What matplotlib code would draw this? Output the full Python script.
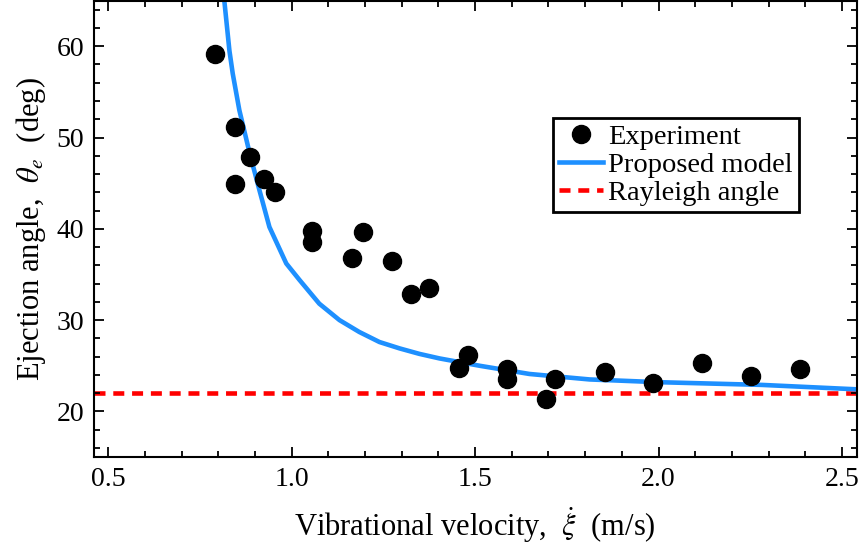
import matplotlib
matplotlib.use("Agg")
import matplotlib.pyplot as plt
from matplotlib.ticker import MultipleLocator, FormatStrFormatter

plt.rcParams["font.family"] = ["Liberation Serif", "DejaVu Serif"]
plt.rcParams["mathtext.fontset"] = "stix"

# experimental points
exp_v = [0.792, 0.846, 0.846, 0.887, 0.925, 0.953, 1.056, 1.056, 1.163, 1.193,
         1.272, 1.324, 1.375, 1.455, 1.481, 1.588, 1.588, 1.694, 1.719, 1.853,
         1.985, 2.119, 2.251, 2.385]
exp_theta = [59.2, 51.2, 44.9, 47.9, 45.5, 44.0, 39.8, 38.5, 36.8, 39.7,
             36.5, 32.9, 33.5, 24.8, 26.2, 24.6, 23.5, 21.4, 23.6, 24.3,
             23.1, 25.3, 23.9, 24.6]

# proposed model curve
model_v = [0.816, 0.830, 0.839, 0.857, 0.885, 0.912, 0.939, 0.985, 1.021, 1.075,
           1.130, 1.184, 1.239, 1.294, 1.348, 1.403, 1.512, 1.648, 1.812, 2.0,
           2.283, 2.55]
model_theta = [65.0, 59.5, 57.0, 53.0, 48.3, 44.2, 40.2, 36.2, 34.4, 31.8,
               30.0, 28.7, 27.6, 26.9, 26.3, 25.8, 25.0, 24.1, 23.5, 23.2,
               22.9, 22.4]

rayleigh = 22.0

fig = plt.figure(figsize=(8.6, 5.54), dpi=100)
ax = fig.add_axes([0.109, 0.175, 0.887, 0.824])

ax.plot(exp_v, exp_theta, "o", color="black", markersize=13, label="Experiment", zorder=3)
ax.plot(model_v, model_theta, color="#1E90FF", lw=3.3, label="Proposed model", zorder=2)
ax.axhline(rayleigh, color="red", lw=3.3, ls=(0, (2.4, 1.7)), label="Rayleigh angle", zorder=1)

ax.set_xlim(0.46, 2.54)
ax.set_ylim(15, 65)
ax.xaxis.set_major_locator(MultipleLocator(0.5))
ax.xaxis.set_minor_locator(MultipleLocator(0.1))
ax.yaxis.set_major_locator(MultipleLocator(10))
ax.yaxis.set_minor_locator(MultipleLocator(2))
ax.xaxis.set_major_formatter(FormatStrFormatter("%.1f"))

ax.tick_params(which="both", direction="in", top=True, right=True, width=1.3)
ax.tick_params(which="major", length=7, labelsize=20, pad=7)
ax.tick_params(which="minor", length=4)
for s in ax.spines.values():
    s.set_linewidth(1.5)

ax.set_xlabel(r"Vibrational velocity,  $\dot{\xi}$  (m/s)", fontsize=22, labelpad=10)
ax.set_ylabel(r"Ejection angle,  $\theta_e$  (deg)", fontsize=22, labelpad=6)

leg = ax.legend(loc="upper left", bbox_to_anchor=(0.602, 0.742), fontsize=20.5,
                frameon=True, fancybox=False, edgecolor="black", framealpha=1,
                borderpad=0.2, labelspacing=0.08, handlelength=1.55,
                handletextpad=0.2, borderaxespad=0)
leg.get_frame().set_linewidth(2)

fig.savefig("out.png", dpi=100)
